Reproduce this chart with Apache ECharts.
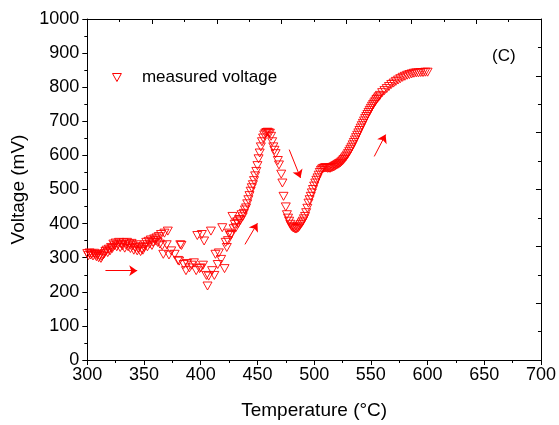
<!DOCTYPE html>
<html>
<head>
<meta charset="utf-8">
<script src="https://cdn.jsdelivr.net/npm/echarts@6/dist/echarts.min.js"></script>
<style>html,body{margin:0;padding:0;background:#fff;}#chart{width:559px;height:425px;}</style>
</head>
<body>
<div id="chart"></div>
<script>
// ---- data ----
const seriesName = "measured voltage";
const temperature = [
  300,301,302,303,304,305,306,307,308,309,310,311,312,313,314,315,
  316,317,318,319,320,321,322,323,324,325,326,327,328,329,330,331,332,333,334,335,336,337,338,339,340,341,342,343,344,345,346,347,348,349,350,
  351,352,353,354,355,356,357,358,359,360,361,362,363,364,365,366,367,368,370,371,372,374,377,380,
  381,382,383,385,387,388,390,392,394,396,397,399,400,401,402,403,405,406,407,409,410,412,413,415,416,418,419,421,422,423,424,425,426,427,428,429,430,431,432,
  433,434,435,436,437,438,439,440,441,442,443,444,445,446,447,448,449,450,451,452,453,454,455,456,457,458,459,460,461,462,
  463,464,465,466,468,469,471,472,473,475,476,477,478,479,480,481,482,483,484,485,486,487,488,489,490,491,492,493,494,495,496,497,498,499,500,
  501,502,503,504,505,506,507,508,509,510,511,512,513,514,515,516,517,518,519,520,521,522,523,524,525,526,527,528,529,530,
  531,532,533,534,535,536,537,538,539,540,541,542,543,544,545,546,547,548,549,550,551,552,553,554,555,556,557,558,
  560,562,564,566,568,570,572,574,576,578,580,582,584,586,588,590,592,594,596,598,600
];
const voltage = [
  312,306,314,308,311,305,313,309,303,310,300,306,298,304,308,312,
  318,322,315,325,320,330,327,340,335,343,332,338,345,330,340,335,344,328,338,345,332,340,327,342,335,322,330,338,320,326,332,318,325,322,330,
  338,345,332,348,340,352,336,345,355,350,358,345,362,340,368,335,310,372,338,378,308,320,310,292,
  290,338,336,280,262,283,270,278,285,262,365,268,270,368,278,349,248,217,246,378,262,248,310,280,314,295,388,268,345,330,350,372,365,368,421,385,398,388,405,
  400,412,410,426,420,430,440,446,458,470,482,495,505,514,526,540,553,570,590,607,625,640,651,660,665,667,668,666,665,656,
  640,625,615,605,585,572,545,519,480,449,426,416,407,398,392,389,387,385,384,386,388,392,397,402,407,414,421,432,445,460,470,480,490,500,510,
  519,527,534,542,550,556,560,562,563,564,563,562,563,562,564,565,566,568,570,572,574,576,578,581,584,588,592,596,601,606,
  612,618,624,631,638,645,652,659,666,673,680,687,694,701,708,714,720,726,732,738,744,749,754,759,764,768,772,776,
  784,790,796,802,808,812,817,821,825,829,832,835,837,839,841,842,842,843,843,844,844
];
// annotation arrows: [start, end] in data units (temperature, voltage)
const arrowStart = [[316, 262], [439, 339], [478, 617], [553, 597]];
const arrowEnd   = [[344, 262], [450, 401], [488, 534], [563, 661]];
const xTicks = {min: 300, max: 700, step: 50};
const yTicks = {min: 0, max: 1000, step: 100};
// frame (top / right) tick divisions as drawn in the reference
const topFrame = {min: 0, max: 7, step: 1};
const rightFrame = {min: 0, max: 6, step: 1};
const panelLabel = "(C)";

const points = temperature.map((t, i) => [t, voltage[i]]);
const arrows = arrowStart.map((s, i) => [{coord: s}, {coord: arrowEnd[i]}]);

const FONT = "Liberation Sans, Arial, sans-serif";
const chart = echarts.init(document.getElementById('chart'), null, {renderer: 'canvas'});
chart.setOption({
  animation: false,
  backgroundColor: '#fff',
  title: {
    text: panelLabel, left: 487, top: 43,
    textStyle: {fontFamily: FONT, fontSize: 17, fontWeight: 'normal', color: '#000'}
  },
  legend: {
    data: [seriesName], left: 107, top: 64, itemWidth: 40, itemHeight: 8,
    icon: 'path://M0,0L10,0L5,9Z', symbolKeepAspect: true,
    itemStyle: {color: 'rgba(0,0,0,0)', borderColor: '#ff0000', borderWidth: 1},
    textStyle: {fontFamily: FONT, fontSize: 17, color: '#000'}
  },
  grid: {left: 87.3, right: 16.3, top: 19, bottom: 64.3, containLabel: false},
  xAxis: [{
    type: 'value', min: xTicks.min, max: xTicks.max, interval: xTicks.step, position: 'bottom',
    name: 'Temperature (°C)', nameLocation: 'middle', nameGap: 41,
    nameTextStyle: {fontFamily: FONT, fontSize: 19, color: '#000'},
    axisLine: {show: true, onZero: false, lineStyle: {color: '#000', width: 1}},
    axisTick: {show: true, inside: false, length: 5, lineStyle: {color: '#000'}},
    minorTick: {show: true, splitNumber: 2, length: 3, lineStyle: {color: '#000'}},
    axisLabel: {fontFamily: FONT, fontSize: 18, color: '#000', margin: 6, formatter: v => String(v)},
    splitLine: {show: false}
  }, {
    type: 'value', min: topFrame.min, max: topFrame.max, interval: topFrame.step, position: 'top',
    axisLine: {show: true, onZero: false, lineStyle: {color: '#000', width: 1}},
    axisTick: {show: true, inside: true, length: 5, lineStyle: {color: '#000'}},
    minorTick: {show: true, splitNumber: 2, length: 3, lineStyle: {color: '#000'}},
    axisLabel: {show: false}, splitLine: {show: false}
  }],
  yAxis: [{
    type: 'value', min: yTicks.min, max: yTicks.max, interval: yTicks.step, position: 'left',
    name: 'Voltage (mV)', nameLocation: 'middle', nameGap: 50, nameRotate: 90,
    nameTextStyle: {fontFamily: FONT, fontSize: 19, color: '#000'},
    axisLine: {show: true, onZero: false, lineStyle: {color: '#000', width: 1}},
    axisTick: {show: true, inside: false, length: 5, lineStyle: {color: '#000'}},
    minorTick: {show: true, splitNumber: 2, length: 3, lineStyle: {color: '#000'}},
    axisLabel: {fontFamily: FONT, fontSize: 18, color: '#000', margin: 8, formatter: v => String(v)},
    splitLine: {show: false}
  }, {
    type: 'value', min: rightFrame.min, max: rightFrame.max, interval: rightFrame.step, position: 'right',
    axisLine: {show: true, onZero: false, lineStyle: {color: '#000', width: 1}},
    axisTick: {show: true, inside: true, length: 5, lineStyle: {color: '#000'}},
    minorTick: {show: true, splitNumber: 2, length: 3, lineStyle: {color: '#000'}},
    axisLabel: {show: false}, splitLine: {show: false}
  }],
  series: [{
    name: seriesName, type: 'scatter', xAxisIndex: 0, yAxisIndex: 0,
    data: points, symbol: 'triangle', symbolRotate: 180, symbolSize: [9, 8],
    itemStyle: {color: 'rgba(0,0,0,0)', borderColor: '#ff0000', borderWidth: 0.9, opacity: 1},
    emphasis: {disabled: true},
    markLine: {
      silent: true, symbol: ['none', 'arrow'], symbolSize: 8, precision: 4,
      label: {show: false},
      lineStyle: {color: '#ff0000', width: 1, type: 'solid'},
      data: arrows
    }
  }]
});
</script>
</body>
</html>
